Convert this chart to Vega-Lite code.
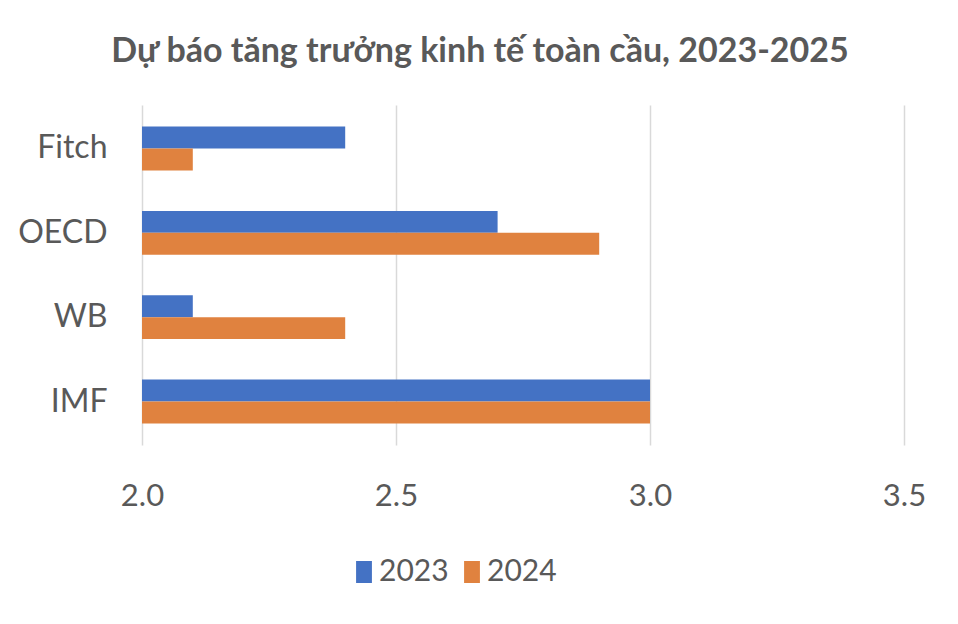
{
  "$schema": "https://vega.github.io/schema/vega-lite/v6.json",
  "width": 762,
  "height": 340,
  "autosize": "none",
  "padding": {"left": 142, "top": 105, "right": 54, "bottom": 179},
  "background": "white",
  "title": {
    "text": "Dự báo tăng trưởng kinh tế toàn cầu, 2023-2025",
    "anchor": "middle",
    "dx": -43,
    "offset": 36,
    "font": "Lato",
    "fontSize": 34,
    "fontWeight": "bold",
    "color": "#595959"
  },
  "data": {
    "values": [
      {"org": "Fitch", "year": "2023", "growth": 2.4},
      {"org": "Fitch", "year": "2024", "growth": 2.1},
      {"org": "OECD", "year": "2023", "growth": 2.7},
      {"org": "OECD", "year": "2024", "growth": 2.9},
      {"org": "WB", "year": "2023", "growth": 2.1},
      {"org": "WB", "year": "2024", "growth": 2.4},
      {"org": "IMF", "year": "2023", "growth": 3.0},
      {"org": "IMF", "year": "2024", "growth": 3.0}
    ]
  },
  "mark": {"type": "bar", "clip": true},
  "encoding": {
    "y": {
      "field": "org",
      "type": "nominal",
      "sort": ["Fitch", "OECD", "WB", "IMF"],
      "scale": {"paddingInner": 0.48, "paddingOuter": 0.255},
      "axis": {
        "title": null,
        "domain": false,
        "ticks": false,
        "labelPadding": 35,
        "labelFont": "Lato",
        "labelFontSize": 32,
        "labelColor": "#595959"
      }
    },
    "yOffset": {
      "field": "year",
      "type": "nominal",
      "sort": ["2023", "2024"]
    },
    "x": {
      "field": "growth",
      "type": "quantitative",
      "scale": {"domain": [2, 3.5], "zero": false, "nice": false},
      "axis": {
        "title": null,
        "values": [2, 2.5, 3, 3.5],
        "format": ".1f",
        "domain": false,
        "ticks": false,
        "grid": true,
        "gridColor": "#d9d9d9",
        "gridWidth": 1.5,
        "labelFlush": false,
        "labelPadding": 36,
        "labelFont": "Lato",
        "labelFontSize": 31,
        "labelColor": "#595959"
      }
    },
    "color": {
      "field": "year",
      "type": "nominal",
      "scale": {"domain": ["2023", "2024"], "range": ["#4472C4", "#E0823F"]},
      "legend": {
        "title": null,
        "orient": "none",
        "direction": "horizontal",
        "legendX": 207,
        "legendY": 452,
        "symbolType": "M-0.72,-1H0.72V1H-0.72Z",
        "symbolSize": 484,
        "symbolStrokeWidth": 0,
        "columnPadding": 8,
        "labelFont": "Lato",
        "labelFontSize": 30,
        "labelColor": "#595959",
        "labelOffset": 0
      }
    }
  },
  "config": {"view": {"stroke": null}}
}
